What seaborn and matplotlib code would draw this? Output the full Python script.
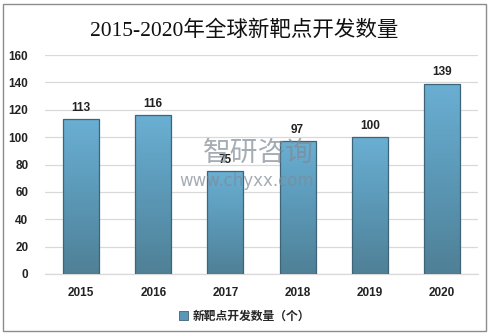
import numpy as np
import pandas as pd
import matplotlib
matplotlib.use("Agg")
import matplotlib.pyplot as plt
from matplotlib.patches import Rectangle
from matplotlib.colors import LinearSegmentedColormap
import seaborn as sns

years = ["2015", "2016", "2017", "2018", "2019", "2020"]
targets = [113, 116, 75, 97, 100, 139]
series_name = "新靶点开发数量（个）"
y_ticks = [0, 20, 40, 60, 80, 100, 120, 140, 160]

sns.set_theme(style="white")
plt.rcParams["font.family"] = ["Liberation Sans", "Noto Sans CJK SC", "DejaVu Sans"]

df = pd.DataFrame({"year": years, "value": targets})

W, H = 489, 335
fig = plt.figure(figsize=(W / 100, H / 100), dpi=100)
ax = fig.add_axes([45 / W, 1 - 274 / H, (478 - 45) / W, (274 - 55) / H])

sns.barplot(data=df, x="year", y="value", ax=ax, width=0.5,
            color="#5d9bb8", edgecolor="#3e6478", linewidth=0.9, zorder=3)

ax.set_ylim(0, 160)
ax.set_xlim(-0.5, len(years) - 0.5)
ax.set_yticks(y_ticks)
ax.yaxis.grid(True, color="#d9d9d9", linewidth=0.9, zorder=0)
ax.set_axisbelow(True)
for s in ["left", "right", "top"]:
    ax.spines[s].set_visible(False)
ax.spines["bottom"].set_color("#d9d9d9")
ax.spines["bottom"].set_linewidth(0.9)
ax.set_xlabel("")
ax.set_ylabel("")
ax.tick_params(axis="both", length=0, labelsize=8.5, colors="#222222")
ax.tick_params(axis="x", pad=9)
ax.tick_params(axis="y", pad=12)
for lab in ax.get_xticklabels() + ax.get_yticklabels():
    lab.set_fontweight("bold")

# vertical gradient fill (light at top, darker at bottom) clipped to each bar
cmap = LinearSegmentedColormap.from_list("barfill", ["#6aafd3", "#5b98b6", "#4f8096"])
grad = np.linspace(0, 1, 256).reshape(-1, 1)
for patch in ax.patches:
    x0, y0 = patch.get_x(), patch.get_y()
    w, h = patch.get_width(), patch.get_height()
    im = ax.imshow(grad, cmap=cmap, aspect="auto", origin="upper",
                   extent=[x0, x0 + w, y0, y0 + h],
                   zorder=3.5, interpolation="bicubic")
    im.set_clip_path(patch)
    patch.set_facecolor("none")
    patch.set_zorder(4)
    ax.text(x0 + w / 2, y0 + h + 4, f"{int(h)}", ha="center", va="bottom",
            fontsize=8.5, fontweight="bold", color="#222222", zorder=5)
ax.set_xlim(-0.5, len(years) - 0.5)
ax.set_ylim(0, 160)

# watermark
fig.text(258 / W, 1 - 153 / H, "智研咨询", ha="center", va="center", fontsize=20,
         color="#7f8a95", alpha=0.7, family=["Noto Sans CJK SC"], zorder=10)
fig.text(247 / W, 1 - 181 / H, "www.chyxx.com", ha="center", va="center", fontsize=12,
         color="#7f8a95", alpha=0.7, family=["DejaVu Sans"], zorder=10)

# title
fig.text(0.5, 1 - 31 / H, "2015-2020年全球新靶点开发数量", ha="center", va="center",
         fontsize=15.5, color="#111111", family=["Liberation Serif", "Noto Sans CJK SC"])

# legend
handle = Rectangle((0, 0), 1, 1, facecolor="#5b98b6", edgecolor="#3e6478", linewidth=0.6)
leg = fig.legend([handle], [series_name], loc="center", bbox_to_anchor=(0.5, 1 - 316 / H),
                 frameon=False, handlelength=0.7, handleheight=0.7, handletextpad=0.4,
                 prop={"family": ["Noto Sans CJK SC"], "weight": "bold", "size": 8.5})

# outer frame
fig.add_artist(Rectangle((3 / W, 4 / H), (486 - 3) / W, (331 - 4) / H,
                         transform=fig.transFigure, fill=False, edgecolor="#8c8c8c",
                         linewidth=1.0))

fig.savefig("out.png", dpi=100)
